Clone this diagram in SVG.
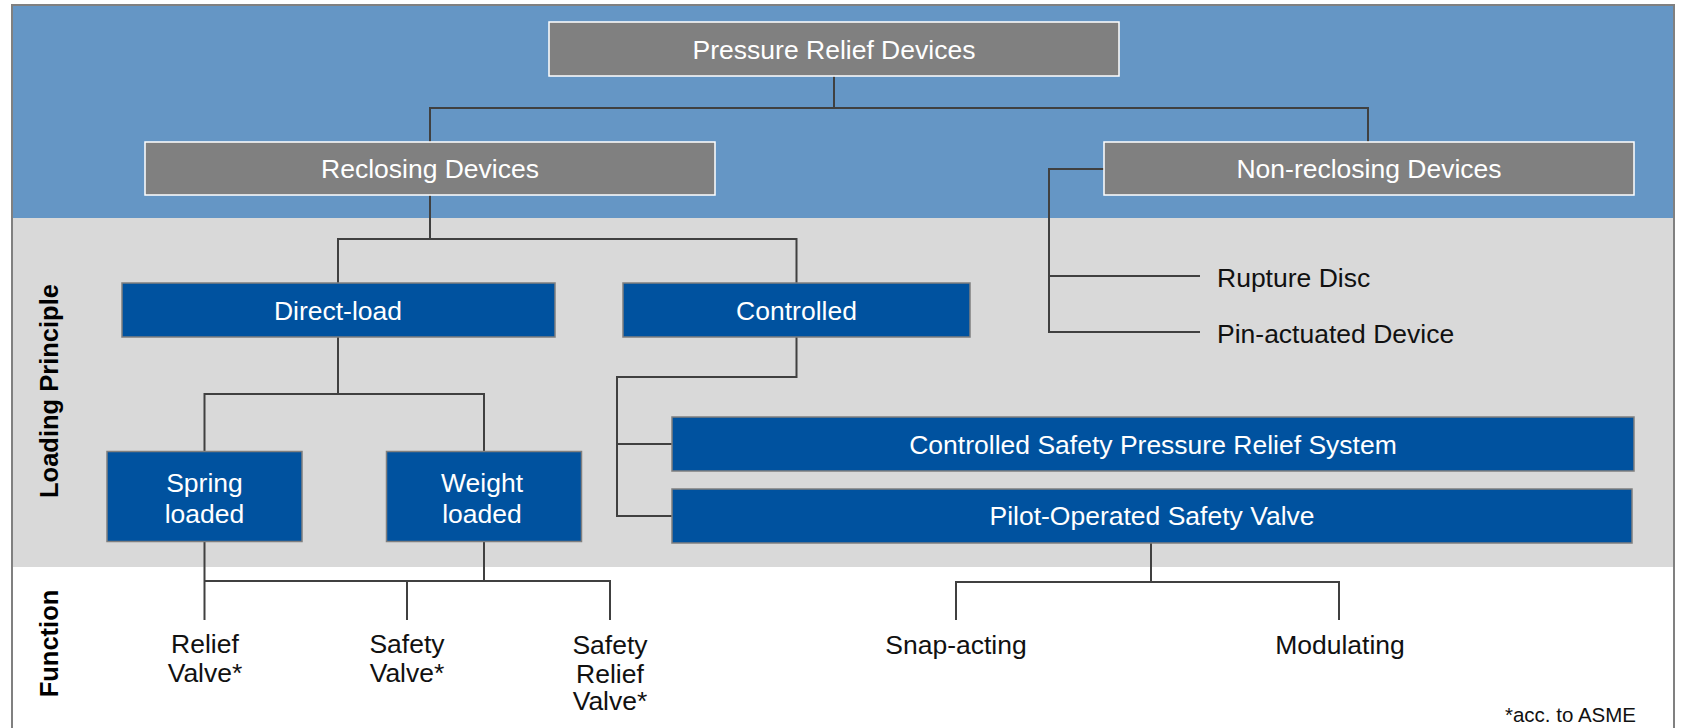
<svg xmlns="http://www.w3.org/2000/svg" width="1683" height="728" viewBox="0 0 1683 728">
<style>
.t{font-family:"Liberation Sans",Arial,sans-serif;font-size:26.5px;text-anchor:middle}
.w{fill:#ffffff}
.k{fill:#111111}
.gbox{fill:#808080;stroke:#ffffff;stroke-width:1.5}
.bbox{fill:#00529F;stroke:#7f7f7f;stroke-width:1.5}
.c{fill:none;stroke:#404040;stroke-width:2}
.side{font-family:"Liberation Sans",Arial,sans-serif;font-size:25.5px;font-weight:bold;text-anchor:middle;fill:#000}
</style>
<rect x="0" y="0" width="1683" height="728" fill="#ffffff"/>
<g id="bands">
<rect x="12" y="5" width="1662" height="213" fill="#6596C5"/>
<rect x="12" y="218" width="1662" height="349" fill="#D9D9D9"/>
<path d="M12 728 V5 H1674 V728" fill="none" stroke="#808080" stroke-width="2"/>
</g>
<g id="connectors">
<path class="c" d="M834 76 V108 M430 142 V108 H1368 V142"/>
<path class="c" d="M430 195 V239 M338 283 V239 H796.5 V283"/>
<path class="c" d="M1104 169 H1049 V332 H1200 M1049 276 H1200"/>
<path class="c" d="M338 337 V394 M204.5 451 V394 H484 V451"/>
<path class="c" d="M796.5 337 V377 H617 V516 H672 M617 444 H672"/>
<path class="c" d="M204.5 542 V620 M484 542 V581 M204.5 581 H610 V620 M407 581 V620"/>
<path class="c" d="M1151 543 V582 M956 620 V582 H1339 V620"/>
</g>
<g id="n-root"><rect class="gbox" x="549" y="22" width="570" height="54"/><text class="t w" x="834" y="58.5">Pressure Relief Devices</text></g>
<g id="n-reclosing"><rect class="gbox" x="145" y="142" width="570" height="53"/><text class="t w" x="430" y="178">Reclosing Devices</text></g>
<g id="n-nonreclosing"><rect class="gbox" x="1104" y="142" width="530" height="53"/><text class="t w" x="1369" y="178">Non-reclosing Devices</text></g>
<g id="n-rupture"><text class="t k" x="1217" y="287" style="text-anchor:start">Rupture Disc</text></g>
<g id="n-pin"><text class="t k" x="1217" y="342.5" style="text-anchor:start">Pin-actuated Device</text></g>
<g id="n-direct"><rect class="bbox" x="122" y="283" width="433" height="54"/><text class="t w" x="338" y="319.5">Direct-load</text></g>
<g id="n-controlled"><rect class="bbox" x="623" y="283" width="347" height="54"/><text class="t w" x="796.5" y="319.5">Controlled</text></g>
<g id="n-spring"><rect class="bbox" x="107" y="451.5" width="195" height="90"/><text class="t w" x="204.5" y="491.5">Spring</text><text class="t w" x="204.5" y="522.5">loaded</text></g>
<g id="n-weight"><rect class="bbox" x="386.5" y="451.5" width="195" height="90"/><text class="t w" x="482" y="491.5">Weight</text><text class="t w" x="482" y="522.5">loaded</text></g>
<g id="n-cspr"><rect class="bbox" x="672" y="417" width="962" height="54"/><text class="t w" x="1153" y="453.5">Controlled Safety Pressure Relief System</text></g>
<g id="n-posv"><rect class="bbox" x="672" y="489" width="960" height="54"/><text class="t w" x="1152" y="525">Pilot-Operated Safety Valve</text></g>
<g id="n-relief"><text class="t k" x="205" y="652.5">Relief</text><text class="t k" x="205" y="681.5">Valve*</text></g>
<g id="n-safety"><text class="t k" x="407" y="652.5">Safety</text><text class="t k" x="407" y="681.5">Valve*</text></g>
<g id="n-srv"><text class="t k" x="610" y="654">Safety</text><text class="t k" x="610" y="682.5">Relief</text><text class="t k" x="610" y="709.5">Valve*</text></g>
<g id="n-snap"><text class="t k" x="956" y="653.5">Snap-acting</text></g>
<g id="n-mod"><text class="t k" x="1340" y="653.5">Modulating</text></g>
<g id="labels">
<text class="side" transform="translate(57.5 391) rotate(-90)">Loading Principle</text>
<text class="side" transform="translate(57.5 643.5) rotate(-90)">Function</text>
<text x="1636" y="721.5" style="font-family:'Liberation Sans',Arial,sans-serif;font-size:20.5px;text-anchor:end;fill:#111">*acc. to ASME</text>
</g>
</svg>
